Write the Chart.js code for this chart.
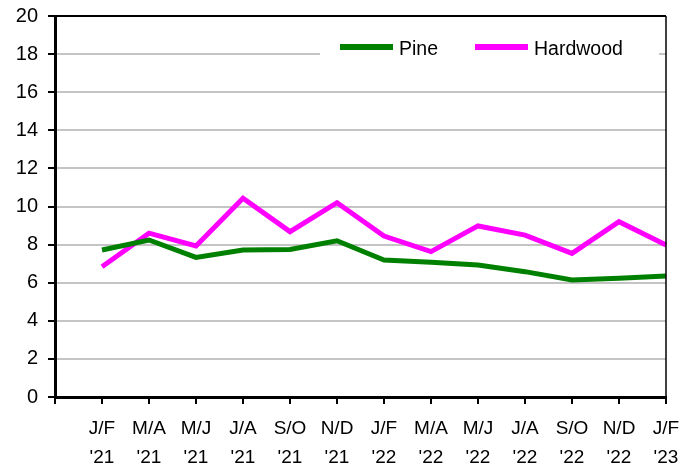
<!DOCTYPE html>
<html>
<head>
<meta charset="utf-8">
<script src="https://cdn.jsdelivr.net/npm/chart.js@4"></script>
<style>
  html, body { margin: 0; padding: 0; background: #fff; }
  #wrap { width: 697px; height: 470px; }
</style>
</head>
<body>
<div id="wrap"><canvas id="chart" width="697" height="470"></canvas></div>
<script>
// first slot is an empty category, like the original sheet
const categories = ["", ["J/F", "'21"], ["M/A", "'21"], ["M/J", "'21"], ["J/A", "'21"], ["S/O", "'21"], ["N/D", "'21"],
    ["J/F", "'22"], ["M/A", "'22"], ["M/J", "'22"], ["J/A", "'22"], ["S/O", "'22"], ["N/D", "'22"], ["J/F", "'23"]];
const pine = [null, 7.72, 8.24, 7.33, 7.72, 7.74, 8.2, 7.19, 7.07, 6.93, 6.58, 6.14, 6.23, 6.35];
const hardwood = [null, 6.84, 8.6, 7.93, 10.43, 8.68, 10.2, 8.45, 7.63, 8.98, 8.5, 7.54, 9.2, 7.98];
const yTicks = [0, 2, 4, 6, 8, 10, 12, 14, 16, 18, 20];

const FONT = "'Liberation Sans', Arial, sans-serif";

// frame on top/right + legend box inside the plot
const framePlugin = {
    id: "frame",
    afterDatasetsDraw(chart) {
        const ctx = chart.ctx;
        const a = chart.chartArea;
        ctx.save();
        ctx.strokeStyle = "#000";
        ctx.lineWidth = 2;
        ctx.beginPath();
        ctx.moveTo(a.left, a.top);
        ctx.lineTo(a.right, a.top);
        ctx.stroke();
        ctx.lineWidth = 1.5;
        ctx.beginPath();
        ctx.moveTo(a.right, a.top);
        ctx.lineTo(a.right, a.bottom);
        ctx.stroke();

        // legend
        ctx.fillStyle = "#fff";
        ctx.fillRect(320, 36, 339, 26);
        ctx.font = "19.5px " + FONT;
        ctx.textBaseline = "middle";
        let x = 340;
        chart.data.datasets.forEach((ds) => {
            ctx.strokeStyle = ds.borderColor;
            ctx.lineWidth = 6;
            ctx.beginPath();
            ctx.moveTo(x, 47);
            ctx.lineTo(x + 53, 47);
            ctx.stroke();
            ctx.fillStyle = "#000";
            ctx.fillText(ds.label, x + 59, 50);
            x += 135;
        });
        ctx.restore();
    }
};

new Chart(document.getElementById("chart"), {
    type: "line",
    data: {
        labels: categories,
        datasets: [
            { label: "Pine", data: pine, borderColor: "#008000", backgroundColor: "#008000" },
            { label: "Hardwood", data: hardwood, borderColor: "#ff00ff", backgroundColor: "#ff00ff" }
        ]
    },
    options: {
        responsive: false,
        animation: false,
        layout: { padding: { top: 16, right: 31, left: 0, bottom: 0 } },
        elements: {
            line: { borderWidth: 5, tension: 0 },
            point: { radius: 0 }
        },
        plugins: {
            legend: { display: false },
            tooltip: { enabled: false }
        },
        scales: {
            x: {
                offset: false,
                afterFit: (s) => { s.height = 73; s.paddingLeft = 0; s.paddingRight = 0; },
                grid: { drawOnChartArea: false, tickLength: 7, tickColor: "#000", lineWidth: 2 },
                border: { color: "#000", width: 3 },
                ticks: {
                    color: "#000",
                    font: { family: FONT, size: 19, lineHeight: 1.55 },
                    padding: 10,
                    maxRotation: 0,
                    autoSkip: false
                }
            },
            y: {
                min: 0,
                max: 20,
                afterFit: (s) => { s.width = 55; s.paddingTop = 0; s.paddingBottom = 0; },
                afterBuildTicks: (s) => { s.ticks = yTicks.map((v) => ({ value: v })); },
                grid: { color: "#c4c4c4", lineWidth: 2, tickLength: 7, tickColor: "#000" },
                border: { color: "#000", width: 3 },
                ticks: {
                    color: "#000",
                    font: { family: FONT, size: 20 },
                    padding: 10
                }
            }
        }
    },
    plugins: [framePlugin]
});
</script>
</body>
</html>
